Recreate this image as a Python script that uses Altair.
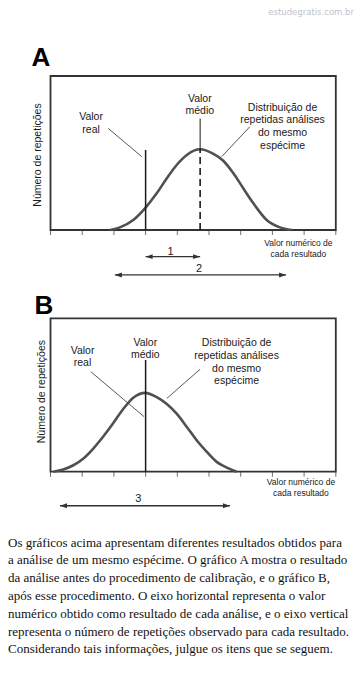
import altair as alt
import pandas as pd

# ---------------- data ----------------
tick_values = [0, 1, 2, 3, 4, 5, 6, 7, 8, 9]
box_x = [0, 9]
box_y = [0, 100]

# Panel A (before calibration)
a_curve_x = [1.88, 2.19, 2.61, 2.98, 3.35, 3.67, 3.98, 4.30, 4.72, 5.14, 5.45, 5.77, 6.08, 6.40, 6.82, 7.24, 7.61]
a_curve_y = [0, 1.7, 6.5, 14.1, 23.8, 33.6, 42.2, 48.7, 52.4, 49.4, 45.0, 36.8, 27.1, 17.3, 6.5, 1.7, 0]
a_real_value = 3.0
a_real_top = 52.0
a_mean_value = 4.72
a_mean_peak = 52.4
a_mean_top = 72.3

# Panel B (after calibration)
b_curve_x = [0.09, 0.40, 0.72, 1.03, 1.35, 1.67, 1.98, 2.30, 2.61, 2.99, 3.35, 3.66, 3.98, 4.30, 4.61, 4.93, 5.24, 5.56, 5.87]
b_curve_y = [0, 1.4, 4.2, 8.5, 15.1, 23.1, 31.7, 41.0, 48.2, 51.4, 48.6, 44.3, 37.8, 29.2, 20.5, 12.9, 6.4, 2.7, 0]
b_mean_value = 3.0
b_mean_top = 72.8

# annotation texts
ann_labels = ["Valor\nreal", "Valor\nmédio", "Distribuição de\nrepetidas análises\ndo mesmo\nespécime"]
y_title = "Número de repetições"
x_title = "Valor numérico de\ncada resultado"

# positions (first text line) in data units
a_label_x = [1.28, 4.71, 7.32]
a_label_y = [73.2, 85.3, 79.4]
a_leader_x = [1.82, 6.29]
a_leader_y = [66.0, 67.1]
a_leader_x2 = [2.88, 5.40]
a_leader_y2 = [47.6, 47.6]
a_arrow_names = ["1", "2"]
a_arrow_x = [3.0, 2.03]
a_arrow_x2 = [4.72, 7.43]
a_arrow_y = [-17.3, -29.2]
a_arrow_label_x = [3.79, 4.69]
a_arrow_label_y = [-14.1, -25.5]

b_label_x = [1.01, 2.99, 5.87]
b_label_y = [78.9, 84.1, 83.7]
b_leader_x = [1.27, 4.72]
b_leader_y = [65.2, 66.8]
b_leader_x2 = [2.95, 3.67]
b_leader_y2 = [35.9, 47.8]
b_arrow_names = ["3"]
b_arrow_x = [0.30]
b_arrow_x2 = [5.66]
b_arrow_y = [-22.2]
b_arrow_label_x = [2.77]
b_arrow_label_y = [-18.0]

paragraph = [
    "Os gráficos acima apresentam diferentes resultados obtidos para",
    "a análise de um mesmo espécime. O gráfico A mostra o resultado",
    "da análise antes do procedimento de calibração, e o gráfico B,",
    "após esse procedimento. O eixo horizontal representa o valor",
    "numérico obtido como resultado de cada análise, e o eixo vertical",
    "representa o número de repetições observado para cada resultado.",
    "Considerando tais informações, julgue os itens que se seguem.",
]

# ---------------- styling ----------------
SANS = "Liberation Sans"
SERIF = "Liberation Serif"
INK = "#1a1a1a"
BOX = "#333333"
CURVE = "#505050"
W = 346
X_DOMAIN = [-1.341, 9.574]


def panel(letter, letter_pos, curve_x, curve_y, label_x, label_y, leaders,
          arrows, arrow_labels, ytitle_pos, xtitle_pos, vlines, dashed,
          height, y_domain, watermark=False):
    xs = alt.Scale(domain=X_DOMAIN, nice=False, zero=False)
    ys = alt.Scale(domain=y_domain, nice=False, zero=False)
    X = lambda f: alt.X(f, type="quantitative", scale=xs, axis=None)
    Y = lambda f: alt.Y(f, type="quantitative", scale=ys, axis=None)

    box = alt.Chart(pd.DataFrame({"x": [box_x[0]], "x2": [box_x[1]],
                                  "y": [box_y[0]], "y2": [box_y[1]]})).mark_rect(
        fill="transparent", stroke=BOX, strokeWidth=1.8).encode(
        x=X("x"), x2="x2", y=Y("y"), y2="y2")

    ticks = alt.Chart(pd.DataFrame({"x": tick_values, "y": [0] * len(tick_values)})).mark_tick(
        orient="vertical", size=5, thickness=1, yOffset=2.5, color=BOX).encode(
        x=X("x"), y=Y("y"))

    curve = alt.Chart(pd.DataFrame({"x": curve_x, "y": curve_y})).mark_line(
        color=CURVE, strokeWidth=2.6, interpolate="monotone").encode(
        x=X("x"), y=Y("y"))

    layers = [box, ticks, curve]

    vl = pd.DataFrame(vlines, columns=["x", "y", "y2", "w"])
    layers.append(alt.Chart(vl).mark_rule(color=INK).encode(
        x=X("x"), y=Y("y"), y2="y2", strokeWidth=alt.StrokeWidth("w:Q", scale=None, legend=None)))
    if dashed is not None:
        dd = pd.DataFrame([dashed], columns=["x", "y", "y2"])
        layers.append(alt.Chart(dd).mark_rule(color=INK, strokeWidth=1.6, strokeDash=[7, 4]).encode(
            x=X("x"), y=Y("y"), y2="y2"))

    ld = pd.DataFrame({"x": leaders[0], "y": leaders[1], "x2": leaders[2], "y2": leaders[3]})
    layers.append(alt.Chart(ld).mark_rule(color="#444444", strokeWidth=0.9).encode(
        x=X("x"), y=Y("y"), x2="x2", y2="y2"))

    ad = pd.DataFrame({"x": arrows[0], "x2": arrows[1], "y": arrows[2]})
    layers.append(alt.Chart(ad).mark_rule(color="#333333", strokeWidth=1.3).encode(
        x=X("x"), x2="x2", y=Y("y")))
    layers.append(alt.Chart(ad).mark_point(
        shape="M 0 0 L 2 -0.7 L 2 0.7 Z", filled=True, size=49, color="#333333", opacity=1).encode(
        x=X("x"), y=Y("y")))
    layers.append(alt.Chart(ad).mark_point(
        shape="M 0 0 L -2 -0.7 L -2 0.7 Z", filled=True, size=49, color="#333333", opacity=1).encode(
        x=X("x2"), y=Y("y")))
    al = pd.DataFrame({"t": arrow_labels[0], "x": arrow_labels[1], "y": arrow_labels[2]})
    layers.append(alt.Chart(al).mark_text(font=SANS, fontSize=11, color=INK).encode(
        x=X("x"), y=Y("y"), text="t:N"))

    an = pd.DataFrame({"t": ann_labels, "x": label_x, "y": label_y})
    layers.append(alt.Chart(an).mark_text(font=SANS, fontSize=10.5, color=INK, lineBreak="\n",
                                          lineHeight=12.7, align="center", baseline="middle").encode(
        x=X("x"), y=Y("y"), text="t:N"))

    yt = pd.DataFrame({"t": [y_title], "x": [ytitle_pos[0]], "y": [ytitle_pos[1]]})
    layers.append(alt.Chart(yt).mark_text(font=SANS, fontSize=10.5, color=INK, angle=270,
                                          align="center", baseline="middle").encode(
        x=X("x"), y=Y("y"), text="t:N"))
    xt = pd.DataFrame({"t": [x_title], "x": [xtitle_pos[0]], "y": [xtitle_pos[1]]})
    layers.append(alt.Chart(xt).mark_text(font=SANS, fontSize=8.5, color=INK, lineBreak="\n",
                                          lineHeight=11.3, align="center", baseline="middle").encode(
        x=X("x"), y=Y("y"), text="t:N"))

    lt = pd.DataFrame({"t": [letter], "x": [letter_pos[0]], "y": [letter_pos[1]]})
    layers.append(alt.Chart(lt).mark_text(font=SANS, fontSize=26, fontWeight="bold", color="#000000",
                                          align="center", baseline="middle").encode(
        x=X("x"), y=Y("y"), text="t:N"))

    if watermark:
        wm = pd.DataFrame({"t": ["estudegratis.com.br"], "x": [X_DOMAIN[1]], "y": [y_domain[1]]})
        layers.append(alt.Chart(wm).mark_text(font="DejaVu Sans", fontSize=8.5, color="#c2c2cc",
                                              align="right", baseline="top").encode(
            x=X("x"), y=Y("y"), text="t:N"))

    return alt.layer(*layers).properties(width=W, height=height)


panel_a = panel(
    "A", (-0.30, 111.5), a_curve_x, a_curve_y, a_label_x, a_label_y,
    (a_leader_x, a_leader_y, a_leader_x2, a_leader_y2),
    (a_arrow_x, a_arrow_x2, a_arrow_y),
    (a_arrow_names, a_arrow_label_x, a_arrow_label_y),
    (-0.385, 48.7), (7.82, -8.25),
    [(a_real_value, 0, a_real_top, 1.5), (a_mean_value, a_mean_peak, a_mean_top, 1.0)],
    (a_mean_value, 0, a_mean_peak),
    282, [-38.96, 144.16], watermark=True)

panel_b = panel(
    "B", (-0.21, 108.0), b_curve_x, b_curve_y, b_label_x, b_label_y,
    (b_leader_x, b_leader_y, b_leader_x2, b_leader_y2),
    (b_arrow_x, b_arrow_x2, b_arrow_y),
    (b_arrow_names, b_arrow_label_x, b_arrow_label_y),
    (-0.28, 52.2), (7.90, -6.5),
    [(b_mean_value, 0, b_mean_top, 1.5)],
    None,
    237, [-36.05, 118.45])

para_df = pd.DataFrame({"t": paragraph, "line": list(range(len(paragraph)))})
text_panel = alt.Chart(para_df).mark_text(
    font=SERIF, fontSize=13, color="#111111", align="left", baseline="middle").encode(
    x=alt.value(0),
    y=alt.Y("line:Q", axis=None, scale=alt.Scale(domain=[-0.884, 7.78], reverse=True, nice=False, zero=False)),
    text="t:N").properties(width=W, height=154)

chart = alt.vconcat(panel_a, panel_b, text_panel, spacing=0).properties(
    padding=0, background="white").configure_view(strokeWidth=0)

chart.save("out.html", embed_options={"renderer": "svg", "actions": False})
